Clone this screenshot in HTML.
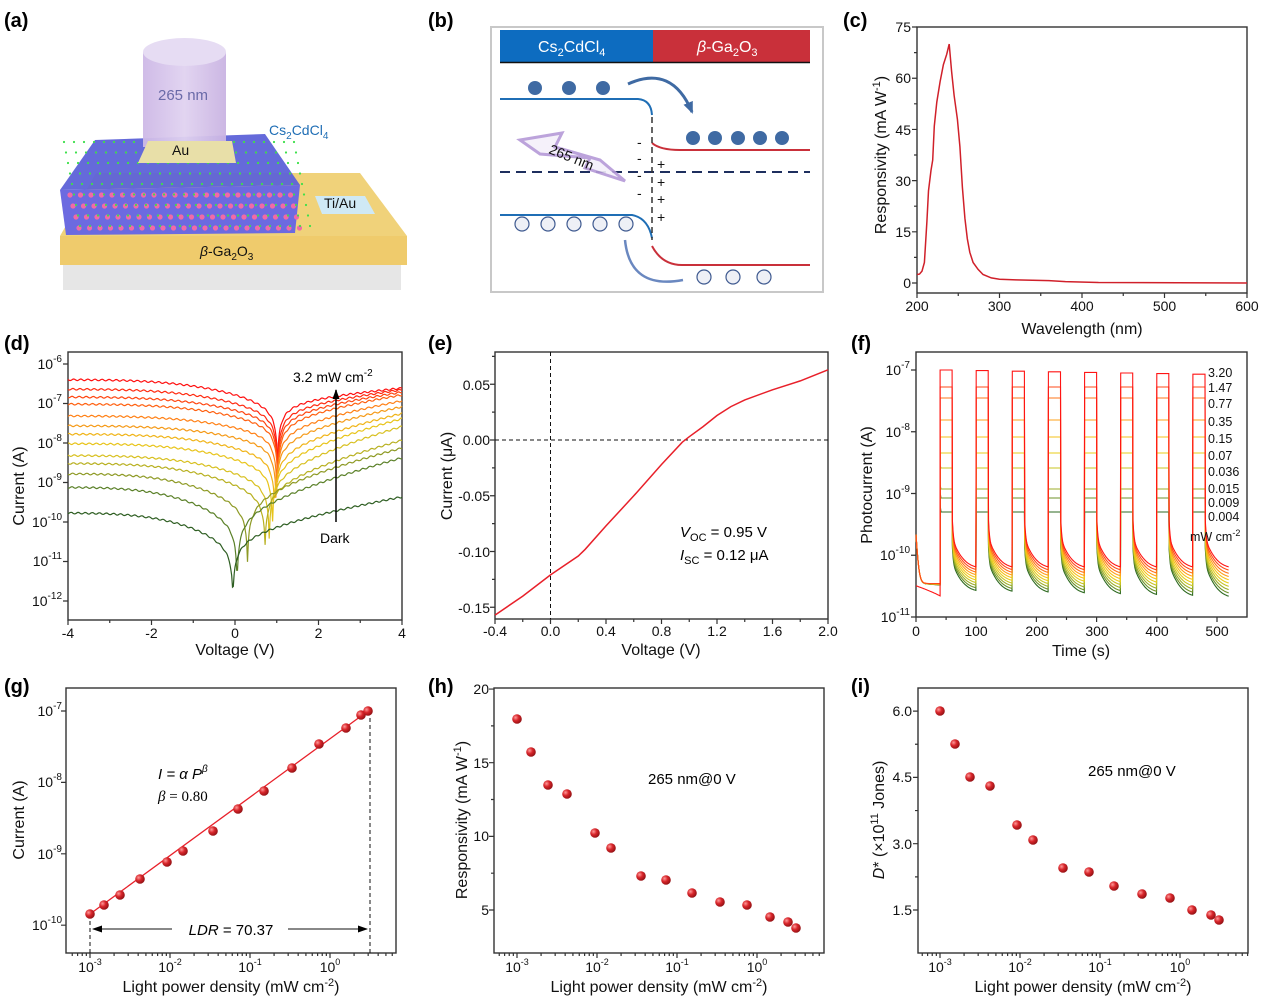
<!DOCTYPE html>
<html><head><meta charset="utf-8"><style>
html,body{margin:0;padding:0;background:#fff;}
svg{display:block;font-family:"Liberation Sans",Arial,sans-serif;}
.t{font-size:14px;fill:#111;}
.ti{font-size:16px;fill:#111;}
.pl{font-size:20px;font-weight:bold;fill:#000;}
.ax{fill:none;stroke:#333;stroke-width:1.4;}
</style></head><body>
<svg id="s" width="1268" height="1002" viewBox="0 0 1268 1002" xmlns="http://www.w3.org/2000/svg">
<defs>
<radialGradient id="sp" cx="0.35" cy="0.35" r="0.7"><stop offset="0" stop-color="#ff9a9a"/><stop offset="0.45" stop-color="#d9262b"/><stop offset="1" stop-color="#8e0f12"/></radialGradient>
<linearGradient id="cyl" x1="0" x2="1"><stop offset="0" stop-color="#cdb8e6"/><stop offset="0.5" stop-color="#e0d2f0"/><stop offset="1" stop-color="#c9b3e2"/></linearGradient>
<marker id="ah" markerUnits="userSpaceOnUse" markerWidth="10" markerHeight="10" refX="9" refY="5" orient="auto"><path d="M0,1.5 L10,5 L0,8.5 z" fill="#000"/></marker>
<marker id="ahb" markerUnits="userSpaceOnUse" markerWidth="12" markerHeight="12" refX="10" refY="6" orient="auto"><path d="M0,1 L12,6 L0,11 z" fill="#3f6aa3"/></marker>
</defs>

<!-- panel labels -->
<text class="pl" x="4" y="27">(a)</text>
<text class="pl" x="428" y="27">(b)</text>
<text class="pl" x="843" y="27">(c)</text>
<text class="pl" x="4" y="350">(d)</text>
<text class="pl" x="428" y="350">(e)</text>
<text class="pl" x="851" y="350">(f)</text>
<text class="pl" x="4" y="693">(g)</text>
<text class="pl" x="428" y="693">(h)</text>
<text class="pl" x="851" y="693">(i)</text>

<!-- (a) illustration -->
<g>
<rect x="63" y="264" width="338" height="26" fill="#e6e6e6"/>
<polygon points="96,173 360,173 407,236 60,236" fill="#f0d27a"/>
<rect x="60" y="236" width="347" height="29" fill="#efcb6c"/>
<polygon points="95,140 265,134 300,185 60,190" fill="#5d62d8" opacity="0.95"/>
<polygon points="60,190 300,185 295,233 66,235" fill="#6c6ae0"/>
<g id="pinkdots"></g>
<rect x="143" y="52" width="83" height="95" fill="url(#cyl)" opacity="0.95"/>
<ellipse cx="184.5" cy="52" rx="41.5" ry="14" fill="#e6dcf3"/>
<polygon points="148,141 232,141 236,163 138,163" fill="#e8dfa8"/>
<polygon points="315,196 365,196 375,214 322,214" fill="#cfe9f5"/>
<text x="158" y="100" style="font-size:15px;fill:#6a6aa8">265 nm</text>
<text x="172" y="155" style="font-size:14px;fill:#111">Au</text>
<text x="269" y="135" style="font-size:14px;fill:#1f6eb5">Cs<tspan font-size="10" dy="4">2</tspan><tspan dy="-4">CdCl</tspan><tspan font-size="10" dy="4">4</tspan></text>
<text x="324" y="208" style="font-size:14px;fill:#111">Ti/Au</text>
<text x="200" y="256" style="font-size:14px;fill:#111"><tspan font-style="italic">β</tspan>-Ga<tspan font-size="10" dy="4">2</tspan><tspan dy="-4">O</tspan><tspan font-size="10" dy="4">3</tspan></text>
</g>

<!-- (b) band diagram -->
<g>
<rect x="491" y="27" width="332" height="265" fill="#fff" stroke="#c8c8c8" stroke-width="2"/>
<rect x="500" y="30" width="153" height="32" fill="#0d6cc0"/>
<rect x="653" y="30" width="157" height="32" fill="#c9303a"/>
<line x1="500" y1="62.5" x2="810" y2="62.5" stroke="#111" stroke-width="1.5"/>
<text x="538" y="52" style="font-size:16px;fill:#fff">Cs<tspan font-size="11" dy="4">2</tspan><tspan dy="-4">CdCl</tspan><tspan font-size="11" dy="4">4</tspan></text>
<text x="697" y="52" style="font-size:16px;fill:#fff"><tspan font-style="italic">β</tspan>-Ga<tspan font-size="11" dy="4">2</tspan><tspan dy="-4">O</tspan><tspan font-size="11" dy="4">3</tspan></text>
<path d="M500,99 L638,99 Q651,100 652,115" fill="none" stroke="#1f6eb5" stroke-width="2"/>
<path d="M652,143 Q660,150 680,150 L810,150" fill="none" stroke="#c9303a" stroke-width="2"/>
<path d="M500,215 L632,215 Q648,218 652,238" fill="none" stroke="#1f6eb5" stroke-width="2"/>
<path d="M652,246 Q662,265 682,265 L810,265" fill="none" stroke="#c9303a" stroke-width="2"/>
<line x1="500" y1="172" x2="810" y2="172" stroke="#1e2f5e" stroke-width="2" stroke-dasharray="10,6"/>
<line x1="652" y1="117" x2="652" y2="240" stroke="#333" stroke-width="1.5" stroke-dasharray="6,4"/>
<g fill="#3f6aa3">
<circle cx="535" cy="88" r="7"/><circle cx="569" cy="88" r="7"/><circle cx="603" cy="88" r="7"/>
<circle cx="693" cy="138" r="7"/><circle cx="715" cy="138" r="7"/><circle cx="738" cy="138" r="7"/><circle cx="760" cy="138" r="7"/><circle cx="782" cy="138" r="7"/>
</g>
<g fill="#eef0f6" stroke="#3f5a90" stroke-width="1.2">
<circle cx="522" cy="224" r="7"/><circle cx="548" cy="224" r="7"/><circle cx="574" cy="224" r="7"/><circle cx="600" cy="224" r="7"/><circle cx="626" cy="224" r="7"/>
<circle cx="704" cy="277" r="7"/><circle cx="733" cy="277" r="7"/><circle cx="764" cy="277" r="7"/>
</g>
<path d="M628,84 Q672,64 692,112" fill="none" stroke="#3f6aa3" stroke-width="3" marker-end="url(#ahb)"/>
<path d="M625,240 Q630,290 683,280" fill="none" stroke="#6a88c0" stroke-width="2.5"/>
<g style="font-size:14px;fill:#111">
<text x="637" y="147">-</text><text x="637" y="163">-</text><text x="637" y="180">-</text><text x="637" y="198">-</text>
<text x="657" y="169">+</text><text x="657" y="187">+</text><text x="657" y="204">+</text><text x="657" y="222">+</text>
</g>
<polygon points="520,140 562,133 555,147 600,160 625,181 585,168 590,158 540,154" fill="#f4f0fa" stroke="#b59ad8" stroke-width="3" opacity="0.9"/>
<text x="548" y="153" transform="rotate(22 548 153)" style="font-size:14px;fill:#111">265 nm</text>
</g>

<!-- (c) -->
<g>
<rect class="ax" x="917" y="27" width="330" height="266"/>
<g id="tc"></g>
<path id="pc" fill="none" stroke="#d0202a" stroke-width="1.5"/>
<g class="t" text-anchor="end">
<text x="911" y="288">0</text><text x="911" y="237">15</text><text x="911" y="186">30</text><text x="911" y="135">45</text><text x="911" y="83">60</text><text x="911" y="32">75</text>
</g>
<g class="t" text-anchor="middle">
<text x="917" y="311">200</text><text x="999.5" y="311">300</text><text x="1082" y="311">400</text><text x="1164.5" y="311">500</text><text x="1247" y="311">600</text>
</g>
<text class="ti" x="1082" y="334" text-anchor="middle">Wavelength (nm)</text>
<text class="ti" transform="translate(886 155) rotate(-90)" text-anchor="middle">Responsivity (mA W<tspan font-size="11" dy="-6">-1</tspan><tspan dy="6">)</tspan></text>
</g>

<!-- (d) -->
<g>
<rect class="ax" x="68" y="352" width="334" height="268"/>
<g id="td"></g>
<g id="cd"></g>
<g class="t" text-anchor="end" id="dl">
<text x="62" y="369">10<tspan font-size="10" dy="-7">-6</tspan></text>
<text x="62" y="408">10<tspan font-size="10" dy="-7">-7</tspan></text>
<text x="62" y="448">10<tspan font-size="10" dy="-7">-8</tspan></text>
<text x="62" y="487">10<tspan font-size="10" dy="-7">-9</tspan></text>
<text x="62" y="527">10<tspan font-size="10" dy="-7">-10</tspan></text>
<text x="62" y="566">10<tspan font-size="10" dy="-7">-11</tspan></text>
<text x="62" y="606">10<tspan font-size="10" dy="-7">-12</tspan></text>
</g>
<g class="t" text-anchor="middle">
<text x="68" y="638">-4</text><text x="151.5" y="638">-2</text><text x="235" y="638">0</text><text x="318.5" y="638">2</text><text x="402" y="638">4</text>
</g>
<text class="ti" x="235" y="655" text-anchor="middle">Voltage (V)</text>
<text class="ti" transform="translate(24 486) rotate(-90)" text-anchor="middle">Current (A)</text>
<text x="293" y="382" style="font-size:14px">3.2 mW cm<tspan font-size="10" dy="-6">-2</tspan></text>
<line x1="336" y1="522" x2="336" y2="390" stroke="#000" stroke-width="1.5" marker-end="url(#ah)"/>
<text x="320" y="543" style="font-size:14px">Dark</text>
</g>

<!-- (e) -->
<g>
<rect class="ax" x="495" y="352" width="333" height="267"/>
<g id="te"></g>
<line x1="550.5" y1="352" x2="550.5" y2="619" stroke="#111" stroke-dasharray="4,3"/>
<line x1="495" y1="440" x2="828" y2="440" stroke="#111" stroke-dasharray="4,3"/>
<path id="pe" fill="none" stroke="#e8202a" stroke-width="1.5"/>
<g class="t" text-anchor="end">
<text x="490" y="390">0.05</text><text x="490" y="445">0.00</text><text x="490" y="501">-0.05</text><text x="490" y="557">-0.10</text><text x="490" y="613">-0.15</text>
</g>
<g class="t" text-anchor="middle">
<text x="495" y="636">-0.4</text><text x="550.5" y="636">0.0</text><text x="606" y="636">0.4</text><text x="661.5" y="636">0.8</text><text x="717" y="636">1.2</text><text x="772.5" y="636">1.6</text><text x="828" y="636">2.0</text>
</g>
<text class="ti" x="661" y="655" text-anchor="middle">Voltage (V)</text>
<text class="ti" transform="translate(452 476) rotate(-90)" text-anchor="middle">Current (μA)</text>
<text x="680" y="537" style="font-size:15px"><tspan font-style="italic">V</tspan><tspan font-size="11" dy="4">OC</tspan><tspan dy="-4"> = 0.95 V</tspan></text>
<text x="680" y="560" style="font-size:15px"><tspan font-style="italic">I</tspan><tspan font-size="11" dy="4">SC</tspan><tspan dy="-4"> = 0.12 μA</tspan></text>
</g>

<!-- (f) -->
<g>
<rect class="ax" x="916" y="352" width="331" height="265"/>
<g id="tf"></g>
<g id="cf"></g>
<g class="t" text-anchor="end">
<text x="910" y="375">10<tspan font-size="10" dy="-7">-7</tspan></text>
<text x="910" y="437">10<tspan font-size="10" dy="-7">-8</tspan></text>
<text x="910" y="499">10<tspan font-size="10" dy="-7">-9</tspan></text>
<text x="910" y="560">10<tspan font-size="10" dy="-7">-10</tspan></text>
<text x="910" y="622">10<tspan font-size="10" dy="-7">-11</tspan></text>
</g>
<g class="t" text-anchor="middle">
<text x="916" y="636">0</text><text x="976" y="636">100</text><text x="1037" y="636">200</text><text x="1097" y="636">300</text><text x="1157" y="636">400</text><text x="1217" y="636">500</text>
</g>
<text class="ti" x="1081" y="656" text-anchor="middle">Time (s)</text>
<text class="ti" transform="translate(872 485) rotate(-90)" text-anchor="middle">Photocurrent (A)</text>
<g style="font-size:12.5px;fill:#111">
<text x="1208" y="377">3.20</text><text x="1208" y="392">1.47</text><text x="1208" y="408">0.77</text><text x="1208" y="426">0.35</text><text x="1208" y="443">0.15</text><text x="1208" y="460">0.07</text><text x="1208" y="476">0.036</text><text x="1208" y="493">0.015</text><text x="1208" y="507">0.009</text><text x="1208" y="521">0.004</text>
<text x="1190" y="541">mW cm<tspan font-size="9" dy="-5">-2</tspan></text>
</g>
</g>

<!-- (g) -->
<g>
<rect class="ax" x="66" y="688" width="330" height="265"/>
<g id="tg"></g>
<line x1="90" y1="914" x2="368" y2="711" stroke="#e8202a" stroke-width="1.3"/>
<line x1="90" y1="914" x2="90" y2="953" stroke="#111" stroke-dasharray="4,3"/>
<line x1="370" y1="711" x2="370" y2="953" stroke="#111" stroke-dasharray="4,3"/>
<line x1="172" y1="929" x2="93" y2="929" stroke="#111" marker-end="url(#ah)"/>
<line x1="288" y1="929" x2="367" y2="929" stroke="#111" marker-end="url(#ah)"/>
<text x="231" y="935" text-anchor="middle" style="font-size:15px"><tspan font-style="italic">LDR</tspan> = 70.37</text>
<g id="mg"></g>
<text x="158" y="779" style="font-size:15px;font-style:italic">I = α P<tspan font-size="10" dy="-7">β</tspan></text>
<text x="158" y="801" style="font-size:15px;font-family:'Liberation Serif',serif"><tspan font-style="italic">β</tspan> = 0.80</text>
<g class="t" text-anchor="end">
<text x="62" y="716">10<tspan font-size="10" dy="-7">-7</tspan></text>
<text x="62" y="787">10<tspan font-size="10" dy="-7">-8</tspan></text>
<text x="62" y="859">10<tspan font-size="10" dy="-7">-9</tspan></text>
<text x="62" y="930">10<tspan font-size="10" dy="-7">-10</tspan></text>
</g>
<g class="t" text-anchor="middle">
<text x="90" y="972">10<tspan font-size="9" dy="-7">-3</tspan></text><text x="170" y="972">10<tspan font-size="9" dy="-7">-2</tspan></text><text x="250" y="972">10<tspan font-size="9" dy="-7">-1</tspan></text><text x="330" y="972">10<tspan font-size="9" dy="-7">0</tspan></text>
</g>
<text class="ti" x="231" y="992" text-anchor="middle">Light power density (mW cm<tspan font-size="11" dy="-6">-2</tspan><tspan dy="6">)</tspan></text>
<text class="ti" transform="translate(24 820) rotate(-90)" text-anchor="middle">Current (A)</text>
</g>

<!-- (h) -->
<g>
<rect class="ax" x="494" y="688" width="330" height="265"/>
<g id="th"></g>
<g id="mh"></g>
<g class="t" text-anchor="end">
<text x="489" y="694">20</text><text x="489" y="768">15</text><text x="489" y="841">10</text><text x="489" y="915">5</text>
</g>
<g class="t" text-anchor="middle">
<text x="517" y="972">10<tspan font-size="9" dy="-7">-3</tspan></text><text x="597" y="972">10<tspan font-size="9" dy="-7">-2</tspan></text><text x="677" y="972">10<tspan font-size="9" dy="-7">-1</tspan></text><text x="757" y="972">10<tspan font-size="9" dy="-7">0</tspan></text>
</g>
<text class="ti" x="659" y="992" text-anchor="middle">Light power density (mW cm<tspan font-size="11" dy="-6">-2</tspan><tspan dy="6">)</tspan></text>
<text class="ti" transform="translate(467 820) rotate(-90)" text-anchor="middle">Responsivity (mA W<tspan font-size="11" dy="-6">-1</tspan><tspan dy="6">)</tspan></text>
<text x="648" y="784" style="font-size:15px">265 nm@0 V</text>
</g>

<!-- (i) -->
<g>
<rect class="ax" x="918" y="688" width="330" height="265"/>
<g id="ti"></g>
<g id="mi"></g>
<g class="t" text-anchor="end">
<text x="912" y="716">6.0</text><text x="912" y="782">4.5</text><text x="912" y="849">3.0</text><text x="912" y="915">1.5</text>
</g>
<g class="t" text-anchor="middle">
<text x="940" y="972">10<tspan font-size="9" dy="-7">-3</tspan></text><text x="1020" y="972">10<tspan font-size="9" dy="-7">-2</tspan></text><text x="1100" y="972">10<tspan font-size="9" dy="-7">-1</tspan></text><text x="1180" y="972">10<tspan font-size="9" dy="-7">0</tspan></text>
</g>
<text class="ti" x="1083" y="992" text-anchor="middle">Light power density (mW cm<tspan font-size="11" dy="-6">-2</tspan><tspan dy="6">)</tspan></text>
<text class="ti" transform="translate(884 820) rotate(-90)" text-anchor="middle"><tspan font-style="italic">D</tspan>* (×10<tspan font-size="11" dy="-6">11</tspan><tspan dy="6"> Jones)</tspan></text>
<text x="1088" y="776" style="font-size:15px">265 nm@0 V</text>
</g>
</svg>
<script>
var NS="http://www.w3.org/2000/svg";
function el(p,t,a){var e=document.createElementNS(NS,t);for(var k in a)e.setAttribute(k,a[k]);document.getElementById(p).appendChild(e);return e;}
function tk(p,d){el(p,"path",{d:d,stroke:"#333","stroke-width":"1.2",fill:"none"});}
function pts(a){return a.map(function(q,i){return (i?"L":"M")+q[0].toFixed(1)+","+q[1].toFixed(1);}).join("");}
(function(){
 var d="";
 for(var v=0;v<=75;v+=7.5){var y=283-v*3.413;d+="M917,"+y+"h"+(v%15?-3:-5);}
 for(var w=200;w<=600;w+=50){var x=917+(w-200)*0.825;d+="M"+x+",293v"+(w%100?3:5);}
 tk("tc",d);
 d="";for(var k=0;k<7;k++){var y=364+39.5*k;d+="M68,"+y+"h-5";}
 for(var v=-4;v<=4;v+=1){var x=68+(v+4)*41.75;d+="M"+x+",620v"+(v%2?3:5);}
 tk("td",d);
 d="";for(var v=-0.15;v<=0.0751;v+=0.025){var y=440-v*1115;d+="M495,"+y+"h"+(Math.abs(Math.round(v*40))%2?-3:-5);}
 for(var v=-0.4;v<=2.01;v+=0.2){var x=495+(v+0.4)*138.75;d+="M"+x+",619v"+(Math.round(v*5)%2?3:5);}
 tk("te",d);
 d="";for(var k=0;k<5;k++){d+="M916,"+(370+61.75*k)+"h-5";}
 for(var t=0;t<=500;t+=50){d+="M"+(916+t*0.602)+",617v"+(t%100?3:5);}
 tk("tf",d);
 var ml=[["tg",66,953],["th",494,953],["ti",918,953]];
 ml.forEach(function(m,j){var x0=[90,517,940][j];d="";
  for(var dec=-4;dec<=1;dec++)for(var n=1;n<10;n++){var x=x0+80*(dec+3+Math.log10(n));if(x>m[1]&&x<m[1]+330)d+="M"+x+","+m[2]+"v"+(n==1?5:3);}
  tk(m[0],d);});
 d="";for(var k=0;k<4;k++)d+="M66,"+(711+71.4*k)+"h-5";tk("tg",d);
 d="";for(var v=5;v<=20;v+=2.5)d+="M494,"+(910-(v-5)*14.73)+"h"+(v%5?-3:-5);tk("th",d);
 d="";for(var v=1.5;v<=6.0;v+=0.75)d+="M918,"+(910-(v-1.5)*44.2)+"h"+(Math.round(v/0.75)%2?-3:-5);tk("ti",d);
})();
(function(){for(var r=0;r<4;r++)for(var c=0;c<22;c++){el("pinkdots","circle",{cx:70+c*10.5+r*3,cy:195+r*11,r:2.6,fill:"#f06aa8"});}
 for(var r=0;r<9;r++)for(var c=0;c<24;c++){el("pinkdots","circle",{cx:64+c*10+r*2,cy:142+r*10.5,r:1.1,fill:"#3ee04a"});}})();
(function(){var d=[[200,2.5],[203,2.6],[206,3.5],[209,6],[212,18],[214,27],[217,33],[219,36],[221,46],[224,53],[228,59],[232,64],[236,67],[239,70],[242,62],[245,55],[249,48],[252,40],[255,28],[258,19],[261,13],[264,9],[268,6],[274,4],[280,2.5],[290,1.5],[300,1.1],[320,0.9],[340,0.8],[360,0.7],[380,0.4],[420,0.15],[600,0]];
 document.getElementById("pc").setAttribute("d",pts(d.map(function(q){return [917+(q[0]-200)*0.825,283-q[1]*3.413];})));})();
(function(){var d=[[-0.4,-0.157],[-0.2,-0.14],[0,-0.121],[0.2,-0.104],[0.25,-0.098],[0.4,-0.077],[0.6,-0.05],[0.8,-0.022],[0.95,-0.002],[1.0,0.003],[1.1,0.012],[1.2,0.022],[1.3,0.03],[1.4,0.036],[1.6,0.045],[1.8,0.053],[2.0,0.063]];
 document.getElementById("pe").setAttribute("d",pts(d.map(function(q){return [495+(q[0]+0.4)*138.75,440-q[1]*1115];})));})();
(function(){
 function Y(l){return 364+(-6-l)*39.5;}
 var C=[
 [-6.38,-7.0,-6.58,1.02,-8.7,"#ff1010"],
 [-6.62,-7.2,-6.62,1.02,-8.8,"#ff2a10"],
 [-6.82,-7.35,-6.68,1.02,-8.9,"#ff4510"],
 [-7.0,-7.5,-6.75,1.02,-9.0,"#ff6010"],
 [-7.3,-7.75,-6.9,1.0,-9.2,"#ff8015"],
 [-7.55,-8.0,-7.05,0.98,-9.4,"#f59a18"],
 [-7.76,-8.3,-7.22,0.95,-9.7,"#f0b418"],
 [-8.0,-8.6,-7.35,0.9,-10.0,"#e8c41a"],
 [-8.3,-8.95,-7.55,0.82,-10.4,"#d8c020"],
 [-8.5,-9.25,-7.9,0.72,-10.6,"#b8b020"],
 [-8.76,-9.55,-8.1,0.3,-11.0,"#8e9a25"],
 [-9.1,-9.95,-8.35,0.05,-11.8,"#5a8028"],
 [-9.75,-10.5,-9.34,-0.05,-12.0,"#2e5e22"]];
 C.forEach(function(c,i){var a=[];var seed=i*7;
  for(var V=-4;V<=4.001;V+=0.02){
   var base=V<c[3]?c[0]+(c[1]-c[0])*Math.pow((V+4)/(c[3]+4),3):c[1]+(c[2]-c[1])*Math.pow((V-c[3])/(4-c[3]),0.7);
   var dv=Math.abs(V-c[3]);var w=0.25;
   var I=Math.pow(10,base)*dv/(dv+w)+Math.pow(10,c[4]);
   var l=Math.log10(I)+0.02*Math.sin(seed+V*37);
   a.push([68+(V+4)*41.75,Math.min(Y(l),605)]);}
  el("cd","path",{d:pts(a),fill:"none",stroke:c[5],"stroke-width":"1.2"});});
})();
(function(){
 var P=[370,387,398,420,437,453,468,489,498,512];
 var col=["#ff1414","#ff4a18","#ff7418","#ffa01a","#f5c21a","#e8cc1a","#c8c422","#9cae28","#6e9228","#2e6a20"];
 function Y(I){return 370+(-7-Math.log10(I))*61.75;}
 for(var i=9;i>=0;i--){var f=i/9;
  var b=Math.pow(10,-10.22-0.38*f), A1=Math.pow(10,-9.55-0.5*f), A2=Math.pow(10,-9.9-0.4*f);
  var a=[];
  for(var t=0;t<=40;t++){var I=i==0?(3.2e-11-1e-11*t/40):(3.5e-11+1.8e-10*Math.exp(-t/2.5)-2e-12*t/40*f);a.push([916+t*0.602,Y(I)]);}
  for(var k=0;k<8;k++){var ton=40+60*k,toff=ton+20;
   var pl=P[i]+k*0.6*(i==0?1:0);
   var spike=(i>=6&&k==0)?pl-14*(f-0.5):pl;
   a.push([916+ton*0.602,spike]);a.push([916+(ton+1.5)*0.602,pl]);a.push([916+toff*0.602,pl]);
   var tend=Math.min(toff+40,520);
   for(var t=toff+0.5;t<=tend;t+=1){var dt=t-toff;var bb=b*(1-0.03*k*f);var I=bb+A2*Math.exp(-dt/12)+A1*Math.exp(-dt/1.2);a.push([916+t*0.602,Y(I)]);}
  }
  el("cf","path",{d:pts(a),fill:"none",stroke:col[i],"stroke-width":"1.1"});}
})();
(function(){
 function M(p,arr){arr.forEach(function(q){el(p,"circle",{cx:q[0],cy:q[1],r:4.8,fill:"url(#sp)"});});}
 M("mg",[[90,914],[104,905],[120,895],[140,879],[167,862],[183,851],[213,831],[238,809],[264,791],[292,768],[319,744],[346,728],[361,715],[368,711]]);
 M("mh",[[517,719],[531,752],[548,785],[567,794],[595,833],[611,848],[641,876],[666,880],[692,893],[720,902],[747,905],[770,917],[788,922],[796,928]]);
 M("mi",[[940,711],[955,744],[970,777],[990,786],[1017,825],[1033,840],[1063,868],[1089,872],[1114,886],[1142,894],[1170,898],[1192,910],[1211,915],[1219,920]]);
})();
</script>
</body></html>
